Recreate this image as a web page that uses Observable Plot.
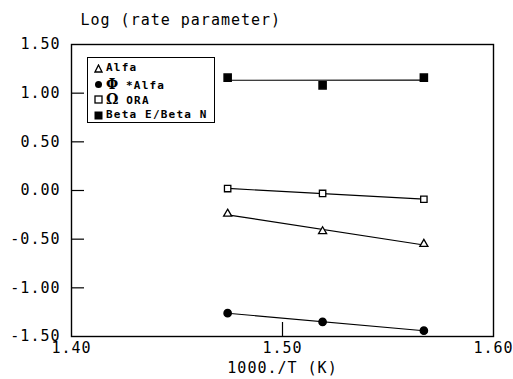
<!DOCTYPE html>
<html>
<head>
<meta charset="utf-8">
<script src="https://cdn.jsdelivr.net/npm/d3@7"></script>
<script src="https://cdn.jsdelivr.net/npm/@observablehq/plot@0.6"></script>
<style>
  html, body { margin: 0; padding: 0; background: #fff; }
  #wrap { position: relative; width: 513px; height: 379px; }
  #legend {
    position: absolute; left: 87px; top: 57px; width: 126px; height: 64px;
    border: 1px solid #000; background: #fff;
    font-family: "DejaVu Sans Mono", monospace; font-size: 11px; font-weight: bold;
    letter-spacing: 1.2px; color: #000;
  }
  #legend .row { position: absolute; left: 0; height: 16px; line-height: 16px; white-space: nowrap; }
  #legend svg { position: absolute; left: 6px; top: 4px; }
  #legend span.t { position: absolute; left: 18px; top: 0; }
  #legend span.g { font-family: "DejaVu Serif", serif; font-size: 14px; font-weight: bold; letter-spacing: 0; }
</style>
</head>
<body>
<div id="wrap"></div>
<script>
// ---- data ----
const invT = [1.474, 1.519, 1.567];          // 1000./T (K)
const alfa = [-0.24, -0.42, -0.55];          // Alfa
const phiAlfa = [-1.26, -1.35, -1.44];       // Φ *Alfa
const omegaOra = [0.02, -0.03, -0.09];       // Ω ORA
const betaRatio = [1.16, 1.08, 1.16];        // Beta E/Beta N
const seriesNames = ["Alfa", "Φ *Alfa", "Ω ORA", "Beta E/Beta N"];
const xTicks = [1.40, 1.50, 1.60];
const yTicks = [1.50, 1.00, 0.50, 0.00, -0.50, -1.00, -1.50];
const xInnerTicks = [1.50];
const yInnerTicks = [1.00, 0.50, 0.00, -0.50, -1.00];

const rows = (ys) => invT.map((x, i) => ({x, y: ys[i]}));
const dAlfa = rows(alfa), dPhi = rows(phiAlfa), dOmega = rows(omegaOra), dBeta = rows(betaRatio);

const W = 513, H = 379, mL = 71, mR = 20, mT = 44, mB = 43;
const frameW = W - mL - mR, frameH = H - mT - mB;
const font = "DejaVu Sans Mono, monospace";
const fmt = d => d.toFixed(2);

const line = (data) => Plot.linearRegressionY(data, {x: "x", y: "y", ci: 0, stroke: "#000", strokeWidth: 1.2});

const chart = Plot.plot({
  width: W, height: H,
  marginLeft: mL, marginRight: mR, marginTop: mT, marginBottom: mB,
  style: {fontFamily: font, fontSize: "15px", letterSpacing: "1px", background: "#fff", color: "#000"},
  x: {domain: [1.40, 1.60]},
  y: {domain: [-1.50, 1.50]},
  marks: [
    Plot.axisY(yTicks, {tickSize: 0, tickPadding: 11, tickFormat: fmt, label: null, fontSize: 15}),
    Plot.axisX(xTicks, {tickSize: 0, tickPadding: 6, tickFormat: fmt, label: null, fontSize: 15}),
    Plot.tickY(yInnerTicks, {y: d => d, insetRight: frameW - 13, stroke: "#000", strokeWidth: 1.2}),
    Plot.tickX(xInnerTicks, {x: d => d, insetTop: frameH - 14, stroke: "#000", strokeWidth: 1.2}),
    Plot.frame({stroke: "#000", strokeWidth: 1.4}),
    line(dAlfa), line(dPhi), line(dOmega), line(dBeta),
    Plot.dot(dAlfa, {x: "x", y: "y", symbol: "triangle", r: 3, fill: "#fff", stroke: "#000", strokeWidth: 1.3}),
    Plot.dot(dPhi, {x: "x", y: "y", symbol: "circle", r: 3.6, fill: "#000", stroke: "#000"}),
    Plot.dot(dOmega, {x: "x", y: "y", symbol: "square", r: 3.6, fill: "#fff", stroke: "#000", strokeWidth: 1.3}),
    Plot.dot(dBeta, {x: "x", y: "y", symbol: "square", r: 4, fill: "#000", stroke: "#000"}),
    Plot.text(["Log (rate parameter)"], {frameAnchor: "top-left", dx: 9, dy: -24, textAnchor: "start", lineAnchor: "middle", fontSize: 15}),
    Plot.text(["1000./T (K)"], {frameAnchor: "bottom", dy: 32, lineAnchor: "middle", fontSize: 15})
  ]
});
document.getElementById("wrap").appendChild(chart);

// ---- legend ----
const legend = document.createElement("div");
legend.id = "legend";
const markerSvg = [
  '<svg width="9" height="9"><polygon points="4.5,1 8,8 1,8" fill="#fff" stroke="#000" stroke-width="1.3"/></svg>',
  '<svg width="9" height="9"><circle cx="4.5" cy="4.5" r="3.5" fill="#000"/></svg>',
  '<svg width="9" height="9"><rect x="1" y="1" width="7" height="7" fill="#fff" stroke="#000" stroke-width="1.3"/></svg>',
  '<svg width="9" height="9"><rect x="0.5" y="0.5" width="8" height="8" fill="#000"/></svg>'
];
const labelHtml = [
  'Alfa',
  '<span class="g">Φ</span> *Alfa',
  '<span class="g">Ω</span> ORA',
  'Beta E/Beta N'
];
seriesNames.forEach((name, i) => {
  const r = document.createElement("div");
  r.className = "row";
  r.style.top = (2 + i * 15.5) + "px";
  r.innerHTML = markerSvg[i] + '<span class="t">' + labelHtml[i] + '</span>';
  r.title = name;
  legend.appendChild(r);
});
document.getElementById("wrap").appendChild(legend);
</script>
</body>
</html>
